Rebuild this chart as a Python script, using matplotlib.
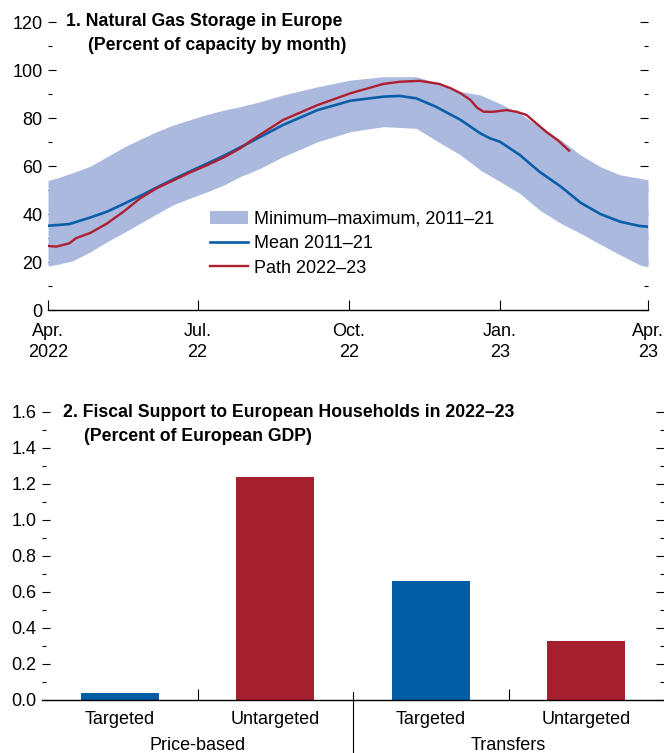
import matplotlib
matplotlib.use("Agg")
import matplotlib.pyplot as plt
from matplotlib.ticker import MultipleLocator, FixedLocator, NullFormatter
import pandas as pd

plt.rcParams['font.family'] = ['Liberation Sans Narrow', 'Liberation Sans', 'DejaVu Sans']

# --- Panel 1: natural gas storage (percent of capacity), days since 1 Apr 2022 ---
start = pd.Timestamp('2022-04-01')

band_days = [0, 7, 15, 26, 36, 46, 56, 66, 76, 86, 97, 107, 117, 129, 143, 164,
             184, 204, 224, 239, 251, 263, 275, 287, 299, 312, 324, 336, 348, 360, 365]
band_max = [53.9, 55.3, 57.2, 60.0, 63.9, 67.8, 71.1, 74.3, 77.0, 79.2, 81.5, 83.3,
            84.7, 86.8, 89.6, 93.0, 95.8, 97.2, 97.2, 94.2, 91.0, 89.6, 86.0, 81.9,
            76.4, 70.8, 64.6, 59.7, 56.3, 54.9, 54.2]
band_min = [18.3, 19.2, 20.5, 24.3, 28.5, 32.2, 36.1, 40.0, 43.8, 46.5, 49.3, 52.1,
            55.6, 59.0, 63.9, 70.1, 74.3, 76.4, 75.7, 69.4, 64.6, 58.3, 53.5, 48.6,
            41.7, 36.1, 31.9, 27.4, 23.0, 18.8, 18.0]

mean_days = [0, 13, 26, 36, 46, 56, 66, 76, 86, 97, 107, 117, 123, 143, 164, 184,
             204, 214, 224, 236, 251, 263, 269, 275, 287, 299, 312, 324, 336, 348,
             360, 365]
mean_vals = [35.1, 35.8, 38.6, 41.0, 44.2, 47.5, 51.0, 54.4, 57.6, 61.1, 64.3, 67.8,
             69.9, 77.1, 83.3, 87.2, 88.9, 89.2, 88.2, 84.7, 79.2, 73.6, 71.5, 70.1,
             64.6, 57.6, 51.4, 44.7, 40.0, 36.8, 35.0, 34.7]

path_days = [0, 5, 13, 17, 26, 36, 46, 56, 66, 76, 86, 97, 107, 117, 124, 143, 164,
             184, 204, 214, 226, 238, 245, 251, 257, 261, 265, 271, 279, 285, 291,
             297, 303, 310, 317]
path_vals = [26.7, 26.4, 27.8, 29.9, 32.2, 36.1, 41.0, 46.5, 50.7, 53.9, 57.2, 60.4,
             63.6, 67.4, 70.8, 79.2, 85.4, 90.3, 94.2, 95.1, 95.5, 94.2, 92.4, 90.3,
             87.5, 84.3, 82.6, 82.6, 83.3, 82.6, 81.3, 77.8, 74.3, 70.8, 66.4]

month_ticks = ['2022-04-01', '2022-07-01', '2022-10-01', '2023-01-01', '2023-04-01']
month_labels = ['Apr.\n2022', 'Jul.\n22', 'Oct.\n22', 'Jan.\n23', 'Apr.\n23']

# --- Panel 2: fiscal support (percent of European GDP) ---
bar_labels = ['Targeted', 'Untargeted', 'Targeted', 'Untargeted']
bar_values = [0.04, 1.24, 0.66, 0.33]
group_labels = ['Price-based', 'Transfers']

BAND = '#abb9df'
BLUE = '#0a5ea8'
RED = '#ae1f30'
BAR_BLUE = '#015ca6'
BAR_RED = '#a51f2f'
FS = 13
TFS = 12.7

W, H = 664, 753
fig = plt.figure(figsize=(W / 100, H / 100), dpi=100)


def to_dates(days):
    return start + pd.to_timedelta(days, unit='D')


def style_axis(ax):
    for s in ['top', 'left', 'right']:
        ax.spines[s].set_visible(False)
    ax.spines['bottom'].set_linewidth(1.0)
    ax.tick_params(axis='y', which='both', direction='in', left=True, right=True,
                   labelleft=True, labelright=False, labelsize=FS, pad=4, width=0.8)
    ax.tick_params(axis='y', which='major', length=6)
    ax.tick_params(axis='y', which='minor', length=3)


# Panel 1
ax1 = fig.add_axes([48 / W, 1 - 310 / H, 600 / W, 288 / H])
style_axis(ax1)
ax1.fill_between(to_dates(band_days), band_min, band_max, color=BAND, lw=0, zorder=2,
                 label='Minimum\u2013maximum, 2011\u201321')
ax1.plot(to_dates(mean_days), mean_vals, color=BLUE, lw=1.9, zorder=3,
         label='Mean 2011\u201321')
ax1.plot(to_dates(path_days), path_vals, color=RED, lw=1.7, zorder=4,
         label='Path 2022\u201323')
ax1.set_xlim(pd.Timestamp('2022-04-01'), pd.Timestamp('2023-04-01'))
ax1.set_ylim(0, 120)
ax1.yaxis.set_major_locator(MultipleLocator(20))
ax1.yaxis.set_minor_locator(MultipleLocator(10))
ax1.set_xticks(pd.to_datetime(month_ticks))
ax1.set_xticklabels(month_labels, fontsize=FS, linespacing=1.33)
ax1.tick_params(axis='x', direction='in', length=7, width=0.8, pad=9)
ax1.legend(loc='upper left', bbox_to_anchor=(0.27, 0.345), frameon=False,
           fontsize=FS, handlelength=2.1, handletextpad=0.33, labelspacing=0.42,
           borderpad=0, borderaxespad=0)

fig.text(66 / W, 1 - 22 / H, '1. Natural Gas Storage in Europe', fontsize=TFS,
         fontweight='bold', va='center', ha='left')
fig.text(88 / W, 1 - 46 / H, '(Percent of capacity by month)', fontsize=TFS,
         fontweight='bold', va='center', ha='left')

# Panel 2
ax2 = fig.add_axes([42 / W, 1 - 700 / H, 622 / W, 288 / H])
style_axis(ax2)
x = range(len(bar_values))
colors = [BAR_BLUE, BAR_RED, BAR_BLUE, BAR_RED]
ax2.bar(x, bar_values, width=0.5, color=colors, zorder=2)
ax2.set_xlim(-0.5, 3.5)
ax2.set_ylim(0, 1.6)
ax2.yaxis.set_major_locator(MultipleLocator(0.2))
ax2.yaxis.set_minor_locator(MultipleLocator(0.1))
ax2.yaxis.set_major_formatter(plt.FuncFormatter(lambda v, p: f'{v:.1f}'))
ax2.set_xticks(list(x))
ax2.set_xticklabels(bar_labels, fontsize=FS)
ax2.tick_params(axis='x', which='major', length=0, pad=8)
ax2.xaxis.set_minor_locator(FixedLocator([0.5, 2.5]))
ax2.xaxis.set_minor_formatter(NullFormatter())
ax2.tick_params(axis='x', which='minor', direction='in', length=8, width=0.8)
ax2.plot([1.5, 1.5], [0.028, -0.2], color='black', lw=0.8,
         transform=ax2.get_xaxis_transform(), clip_on=False)
for gx, g in zip([0.5, 2.5], group_labels):
    ax2.text(gx, -0.158, g, transform=ax2.get_xaxis_transform(), ha='center',
             va='center', fontsize=FS)

fig.text(63 / W, 1 - 413 / H, '2. Fiscal Support to European Households in 2022\u201323',
         fontsize=TFS, fontweight='bold', va='center', ha='left')
fig.text(84 / W, 1 - 436 / H, '(Percent of European GDP)', fontsize=TFS,
         fontweight='bold', va='center', ha='left')

fig.savefig('out.png', dpi=100)
